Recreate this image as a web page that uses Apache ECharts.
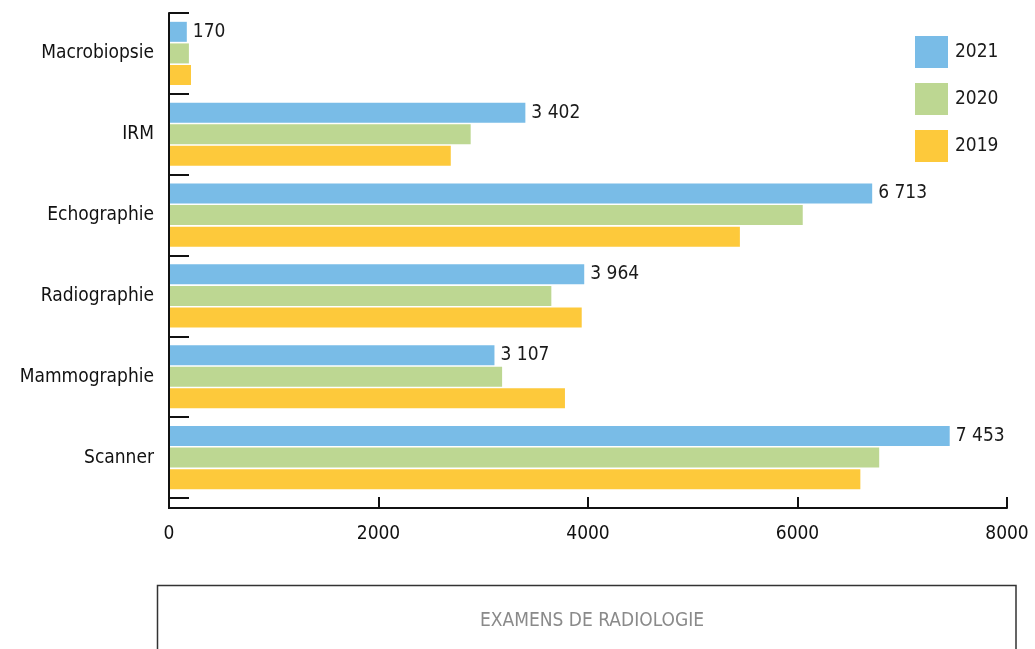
<!DOCTYPE html>
<html>
<head>
<meta charset="utf-8">
<title>Examens de radiologie</title>
<script src="https://cdn.jsdelivr.net/npm/echarts@6/dist/echarts.min.js"></script>
<style>
  html, body { margin: 0; padding: 0; background: #ffffff; }
  #chart { width: 1035px; height: 649px; }
</style>
</head>
<body>
<div id="chart"></div>
<script>
// Exam types, listed bottom to top as the category axis runs upward
const categories = ['Scanner', 'Mammographie', 'Radiographie', 'Echographie', 'IRM', 'Macrobiopsie'];
const values2021 = [7453, 3107, 3964, 6713, 3402, 170];
const values2020 = [6780, 3180, 3650, 6050, 2880, 190];
const values2019 = [6600, 3780, 3940, 5450, 2690, 210];
const years = ['2021', '2020', '2019'];
const xTicks = [0, 2000, 4000, 6000, 8000];
const chartTitle = 'EXAMENS DE RADIOLOGIE';

const FONT = "'Liberation Sans Narrow', 'DejaVu Sans Condensed', 'Arial Narrow', sans-serif";
const FS = 19;
const colors = { '2021': '#79bce7', '2020': '#bdd792', '2019': '#fdc93b' };

// 7 453 style numbers (space as thousands separator)
function fmt(v) {
  return String(v).replace(/\B(?=(\d{3})+(?!\d))/g, ' ');
}

const chart = echarts.init(document.getElementById('chart'), null, { renderer: 'canvas' });

function barSeries(name, data, withLabel) {
  return {
    name: name,
    type: 'bar',
    data: data,
    barWidth: 20,
    barGap: '8%',
    itemStyle: { color: colors[name] },
    label: withLabel ? {
      show: true,
      position: 'right',
      distance: 6,
      color: '#1a1a1a',
      fontFamily: FONT,
      fontSize: FS,
      padding: [3, 0, 0, 0],
      formatter: p => fmt(p.value)
    } : { show: false },
    emphasis: { disabled: true },
    animation: false
  };
}

chart.setOption({
  animation: false,
  backgroundColor: '#ffffff',
  title: {
    text: chartTitle,
    left: 587,
    top: 607,
    textAlign: 'center',
    textStyle: { color: '#8a8a8a', fontFamily: FONT, fontSize: FS, fontWeight: 'normal' }
  },
  legend: {
    orient: 'vertical',
    left: 910,
    top: 31,
    itemWidth: 33,
    itemHeight: 32,
    itemGap: 15,
    icon: 'rect',
    data: years,
    textStyle: { color: '#1a1a1a', fontFamily: FONT, fontSize: FS, padding: [2, 0, 0, 2] },
    selectedMode: false
  },
  grid: { left: 169, right: 28, top: 13, bottom: 151, containLabel: false, outerBoundsMode: 'none' },
  xAxis: {
    type: 'value',
    min: xTicks[0],
    max: xTicks[xTicks.length - 1],
    interval: 2000,
    offset: 10,
    axisLine: { show: true, lineStyle: { color: '#111', width: 2 } },
    axisTick: { show: true, inside: true, length: 11, lineStyle: { color: '#111', width: 2 } },
    splitLine: { show: false },
    axisLabel: { color: '#111', fontFamily: FONT, fontSize: FS, margin: 17, formatter: v => String(v) }
  },
  yAxis: {
    type: 'category',
    data: categories,
    z: 5,
    axisLine: { show: true, lineStyle: { color: '#111', width: 2 } },
    axisTick: { show: true, inside: true, length: 20, lineStyle: { color: '#111', width: 2 } },
    axisLabel: { color: '#111', fontFamily: FONT, fontSize: FS, margin: 15, padding: [4, 0, 0, 0] }
  },
  series: [
    barSeries('2021', values2021, true),
    barSeries('2020', values2020, false),
    barSeries('2019', values2019, false)
  ],
  graphic: [
    // joins the category axis down to the offset value axis
    { type: 'line', shape: { x1: 169, y1: 497, x2: 169, y2: 509 }, style: { stroke: '#111', lineWidth: 2 }, silent: true },
    // frame around the caption
    { type: 'rect', shape: { x: 157.5, y: 585.5, width: 858.5, height: 120 }, style: { fill: 'none', stroke: '#333', lineWidth: 1.5 }, silent: true }
  ]
});
</script>
</body>
</html>
